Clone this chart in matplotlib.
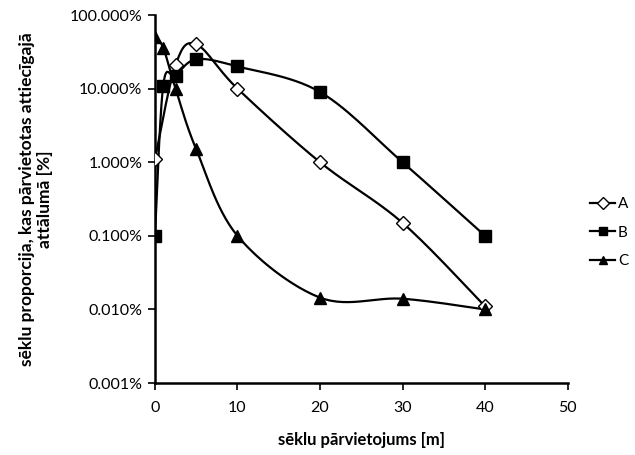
import numpy as np
import matplotlib
matplotlib.use("Agg")
import matplotlib.pyplot as plt
from matplotlib.ticker import FixedLocator, FuncFormatter

plt.rcParams['font.family'] = ['Lato', 'DejaVu Sans']

series_names = ["A", "B", "C"]
x_A = [0, 2.5, 5, 10, 20, 30, 40]
y_A = [1.1, 21, 40, 10, 1.0, 0.15, 0.011]
x_B = [0, 1, 2.5, 5, 10, 20, 30, 40]
y_B = [0.1, 11, 15, 25, 20, 9, 1.0, 0.1]
x_C = [0, 1, 2.5, 5, 10, 20, 30, 40]
y_C = [50, 36, 10, 1.5, 0.1, 0.0145, 0.014, 0.01]

y_ticks = [0.001, 0.01, 0.1, 1, 10, 100]
x_ticks = [0, 10, 20, 30, 40, 50]


def smooth(xs, ys, n=30):
    # Catmull-Rom style smoothing (like spreadsheet smoothed lines) in x / log10(y)
    P = np.column_stack([np.asarray(xs, float), np.log10(np.asarray(ys, float))])
    m = len(P)
    out = [P[0]]
    t = np.linspace(0, 1, n)[1:]
    for i in range(m - 1):
        p0 = P[i - 1] if i > 0 else P[i]
        p1 = P[i]
        p2 = P[i + 1]
        p3 = P[i + 2] if i + 2 < m else P[i + 1]
        b1 = p1 + (p2 - p0) / 6.0
        b2 = p2 - (p3 - p1) / 6.0
        for tt in t:
            pt = ((1 - tt) ** 3) * p1 + 3 * ((1 - tt) ** 2) * tt * b1 + 3 * (1 - tt) * tt ** 2 * b2 + tt ** 3 * p2
            out.append(pt)
    out = np.array(out)
    return out[:, 0], 10 ** out[:, 1]


fig = plt.figure(figsize=(6.35, 4.55), dpi=100)
ax = fig.add_axes([0.244, 0.158, 0.650, 0.809])

styles = {
    "A": dict(marker="D", mfc="white", mec="black", ms=7, mew=1.0),
    "B": dict(marker="s", mfc="black", mec="black", ms=9, mew=1.0),
    "C": dict(marker="^", mfc="black", mec="black", ms=9, mew=1.0),
}
data = {"A": (x_A, y_A), "B": (x_B, y_B), "C": (x_C, y_C)}

for name in series_names:
    xs, ys = data[name]
    sx, sy = smooth(xs, ys)
    ax.plot(sx, sy, color="black", lw=1.6, zorder=2)
    ax.plot(xs, ys, ls="none", zorder=3, **styles[name])

ax.set_yscale("log")
ax.set_ylim(0.001, 100)
ax.set_xlim(0, 50)
ax.yaxis.set_major_locator(FixedLocator(y_ticks))
ax.yaxis.set_minor_locator(FixedLocator([]))
ax.yaxis.set_major_formatter(FuncFormatter(lambda v, p: f"{v:.3f}%"))
ax.xaxis.set_major_locator(FixedLocator(x_ticks))
ax.xaxis.set_major_formatter(FuncFormatter(lambda v, p: f"{v:g}"))

for s in ["top", "right"]:
    ax.spines[s].set_visible(False)
for s in ["left", "bottom"]:
    ax.spines[s].set_linewidth(1.8)
ax.tick_params(axis="both", direction="out", length=5, width=1.2, labelsize=11.5, colors="black")
ax.tick_params(axis="x", pad=8)
ax.tick_params(axis="y", pad=4)

ax.set_xlabel("sēklu pārvietojums [m]", fontsize=12, fontweight="bold", labelpad=12)
ax.set_ylabel("sēklu proporcija, kas pārvietotas attiecīgajā\nattālumā [%]", fontsize=12.5,
              fontweight="bold", labelpad=12, linespacing=1.15)

handles = []
for name in series_names:
    h, = ax.plot([], [], color="black", lw=1.6, **{k: v for k, v in styles[name].items()})
    handles.append(h)
for h, name in zip(handles, series_names):
    h.set_markersize(6)
leg = fig.legend(handles, series_names, loc="center left", bbox_to_anchor=(0.92, 0.489),
                 frameon=False, fontsize=11, handlelength=1.6, handletextpad=0.2,
                 labelspacing=0.95, borderaxespad=0.0)

fig.savefig("out.png", dpi=100)
